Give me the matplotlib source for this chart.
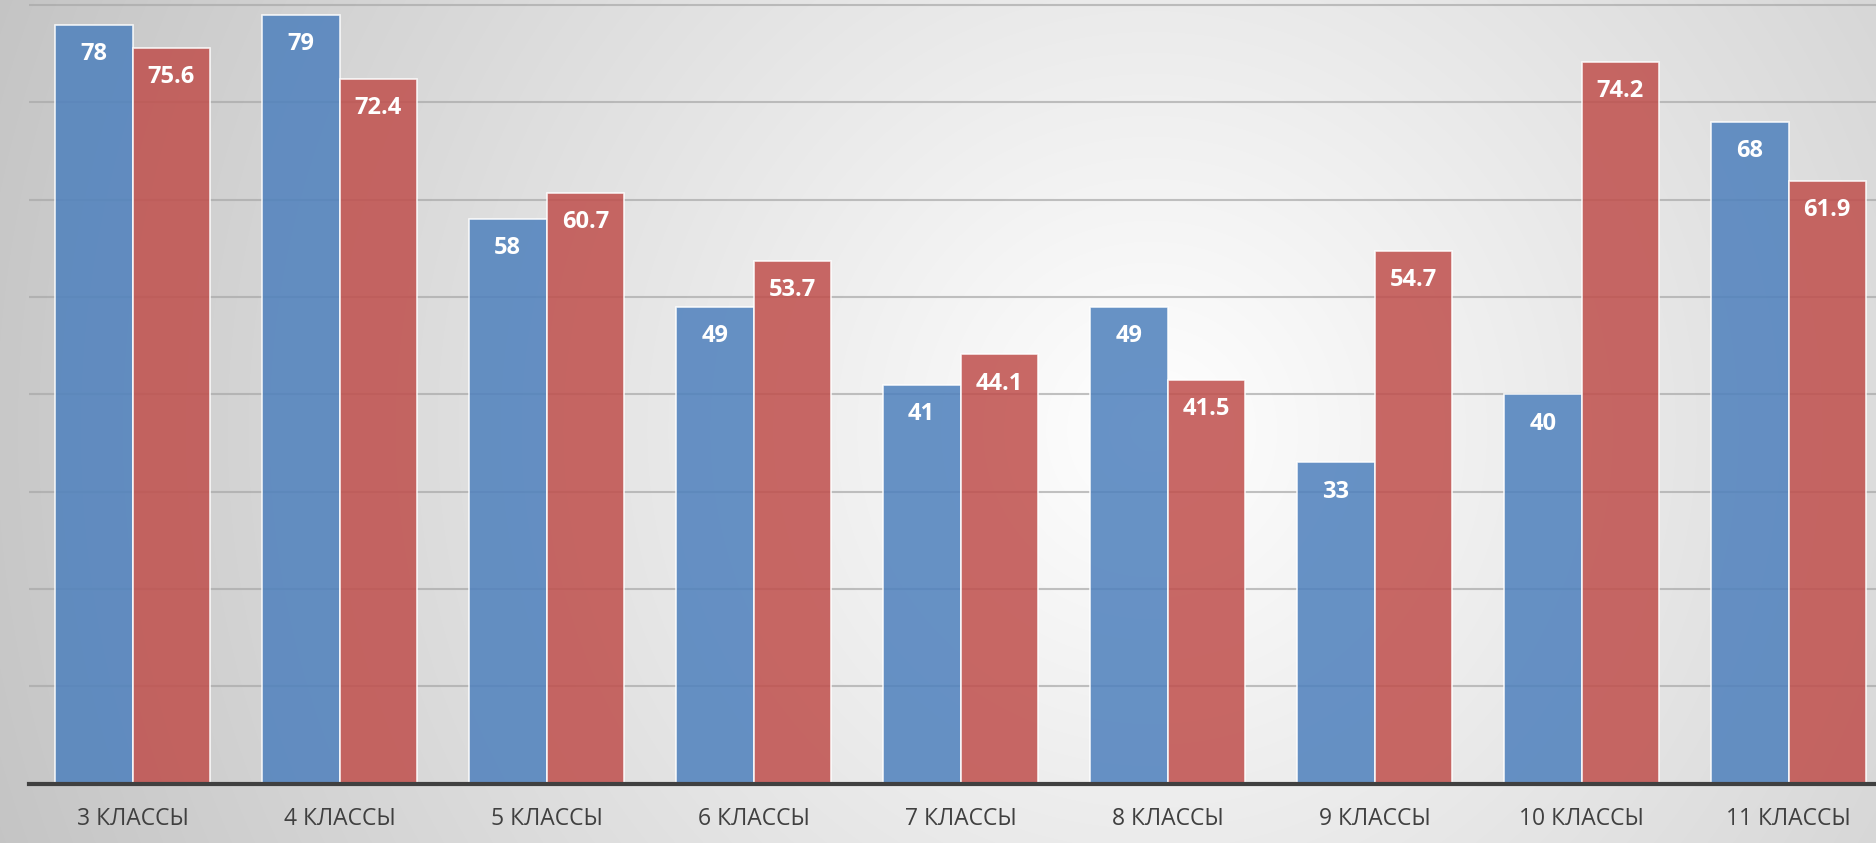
#! /usr/bin/env python

import numpy as np
import matplotlib
matplotlib.use('Agg')
import matplotlib.pyplot as plt

# data
classes = ['3 КЛАССЫ', '4 КЛАССЫ', '5 КЛАССЫ', '6 КЛАССЫ', '7 КЛАССЫ',
           '8 КЛАССЫ', '9 КЛАССЫ', '10 КЛАССЫ', '11 КЛАССЫ']
blue_vals = [78, 79, 58, 49, 41, 49, 33, 40, 68]
red_vals = [75.6, 72.4, 60.7, 53.7, 44.1, 41.5, 54.7, 74.2, 61.9]

plt.rcParams['font.family'] = ['Open Sans', 'DejaVu Sans']

W, H = 1876, 843
fig = plt.figure(figsize=(W / 100, H / 100), dpi=100)

# radial grey background, bright near the middle
bg = fig.add_axes([0, 0, 1, 1], zorder=-1)
yy, xx = np.mgrid[0:H, 0:W]
r = np.hypot(xx - 1150, yy - 430) / 1230.0
shade = np.clip(1.0 - 0.23 * r, 0, 1)
bg.imshow(np.dstack([shade, shade, shade]), aspect='auto', extent=[0, 1, 0, 1])
bg.set_xlim(0, 1)
bg.set_ylim(0, 1)
bg.axis('off')

ax = fig.add_axes([29 / W, 59.5 / H, 1863 / W, 875.6 / H])
ax.patch.set_alpha(0)

x = np.arange(len(classes))
w = 0.375
b1 = ax.bar(x - w / 2, blue_vals, w, color='#4F81BD', alpha=0.86,
            edgecolor=(1, 1, 1, 0.5), linewidth=1.2, zorder=2)
b2 = ax.bar(x + w / 2, red_vals, w, color='#C0504D', alpha=0.86,
            edgecolor=(1, 1, 1, 0.5), linewidth=1.2, zorder=2)

# value labels inside bar tops
for bars, vals in ((b1, blue_vals), (b2, red_vals)):
    for bar, v in zip(bars, vals):
        ax.annotate(f'{v:g}', (bar.get_x() + bar.get_width() / 2, v),
                    xytext=(0, -21), textcoords='offset points',
                    ha='center', va='center', color='white',
                    fontsize=17, fontweight='bold', zorder=3)

ax.set_xlim(-0.5, len(classes) - 0.5)
ax.set_ylim(0, 90)
ax.set_yticks(np.arange(10, 90, 10))
ax.yaxis.grid(True, color='#a8a8a8', linewidth=1.5, alpha=0.7)
ax.set_axisbelow(True)
ax.tick_params(axis='y', left=False, labelleft=False)

ax.set_xticks(x)
ax.set_xticklabels(classes, fontsize=16.5, color='#404040')
ax.tick_params(axis='x', length=0, pad=17)

for s in ('left', 'right', 'top'):
    ax.spines[s].set_visible(False)
ax.spines['bottom'].set_color('#404040')
ax.spines['bottom'].set_linewidth(3)
ax.spines['bottom'].set_zorder(4)

fig.savefig('out.png', dpi=100)
